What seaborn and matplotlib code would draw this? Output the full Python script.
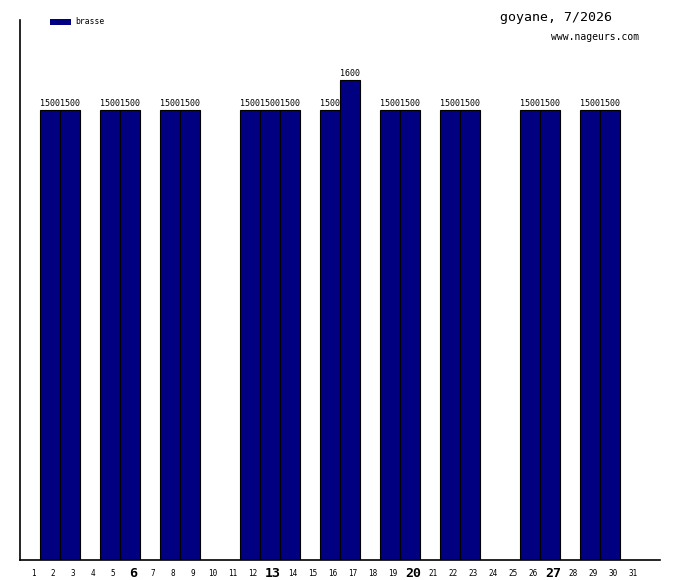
import matplotlib
matplotlib.use("Agg")
import matplotlib.pyplot as plt
import matplotlib.transforms as mtransforms
import seaborn as sns
import pandas as pd
from matplotlib.patches import Rectangle

days = [2, 3, 5, 6, 8, 9, 12, 13, 14, 16, 17, 19, 20, 22, 23, 26, 27, 29, 30]
distances = [1500, 1500, 1500, 1500, 1500, 1500, 1500, 1500, 1500, 1500, 1600,
             1500, 1500, 1500, 1500, 1500, 1500, 1500, 1500]
all_days = list(range(1, 32))
sundays = [6, 13, 20, 27]
title = "goyane, 7/2026"
site = "www.nageurs.com"
series_name = "brasse"

sns.set_style("white")
plt.rcParams['font.family'] = ['DejaVu Sans Mono', 'DejaVu Sans']
plt.rcParams['text.color'] = 'black'
plt.rcParams['xtick.color'] = 'black'
plt.rcParams['axes.labelcolor'] = 'black'

fig = plt.figure(figsize=(6.8, 5.8), dpi=100)
ax = fig.add_axes([20/680, 20/580, 640/680, 540/580])

df = pd.DataFrame({"day": days, "dist": distances})
sns.barplot(data=df, x="day", y="dist", native_scale=True, width=1.0,
            color="#000080", saturation=1, edgecolor="black", linewidth=0.8, ax=ax)

ax.set_xlim(0.5, 32.5)
ax.set_ylim(0, 1800)
for s in ["top", "right"]:
    ax.spines[s].set_visible(False)
for s in ["left", "bottom"]:
    ax.spines[s].set_color("black")
    ax.spines[s].set_linewidth(1.2)
ax.set_yticks([])
ax.set_xlabel("")
ax.set_ylabel("")
ax.set_xticks(all_days)
ax.set_xticklabels([str(d) for d in all_days])
ax.tick_params(axis="x", length=0, pad=10, labelcolor="black")
shift = mtransforms.ScaledTranslation(3/100, 0, fig.dpi_scale_trans)
for lbl, d in zip(ax.get_xticklabels(), all_days):
    lbl.set_va("center")
    lbl.set_transform(lbl.get_transform() + shift)
    if d in sundays:
        lbl.set_fontsize(9.5)
        lbl.set_fontweight("bold")
    else:
        lbl.set_fontsize(5.5)

for d, v in zip(days, distances):
    ax.text(d, v + 6, str(v), ha="center", va="bottom", fontsize=6, color="black")

fig.text(612/680, 1 - 18/580, title, ha="right", va="center", fontsize=9.5, color="black")
fig.text(639/680, 1 - 37/580, site, ha="right", va="center", fontsize=7, color="black")
fig.patches.append(Rectangle((50/680, 1 - 25/580), 21/680, 6/580,
                             transform=fig.transFigure, facecolor="#000080",
                             edgecolor="none"))
fig.text(75/680, 1 - 22/580, series_name, ha="left", va="center", fontsize=5.8, color="black")

fig.savefig("out.png", dpi=100)
